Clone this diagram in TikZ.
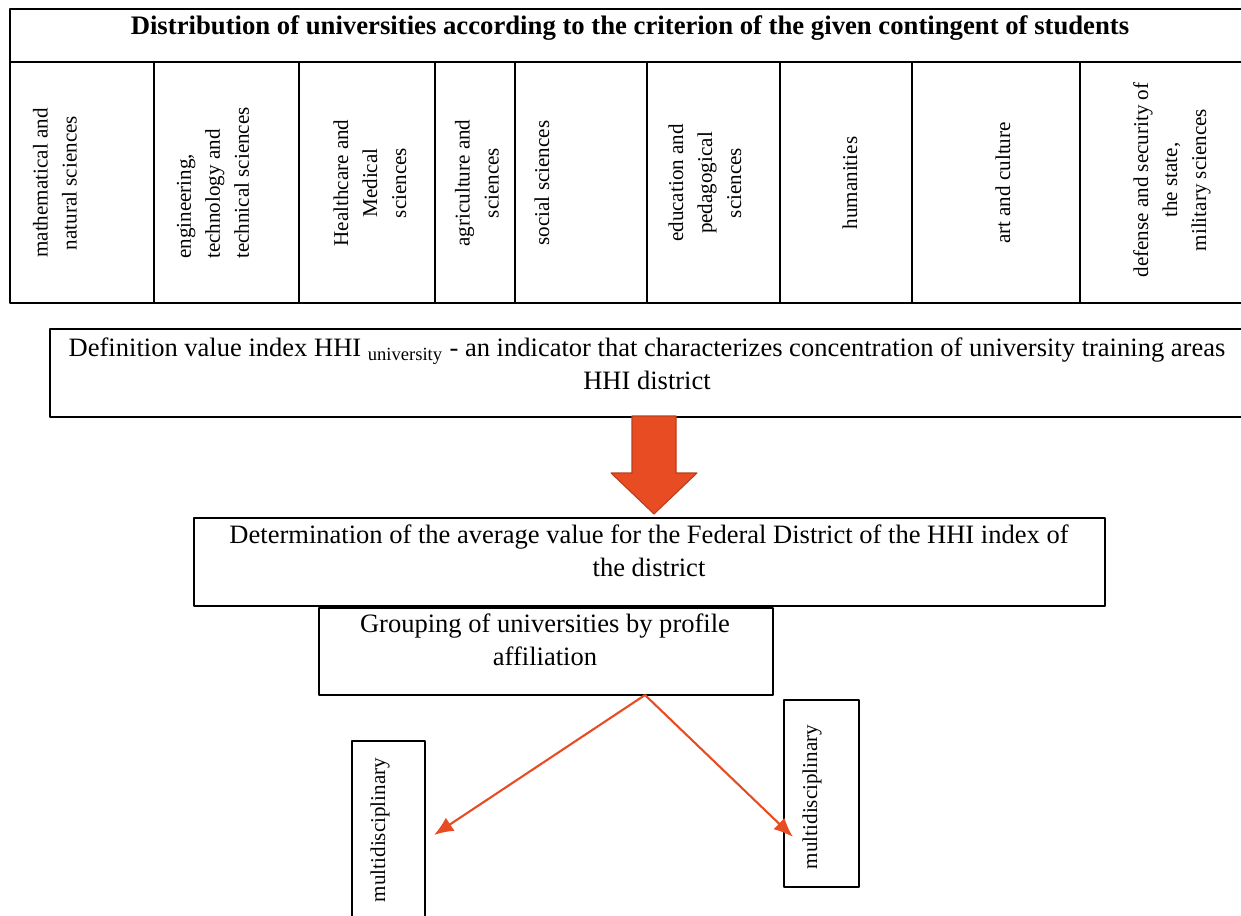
\documentclass[tikz,border=0pt]{standalone}
\usepackage{fontspec}
\setmainfont{Liberation Serif}
\usetikzlibrary{arrows.meta}
\definecolor{arrowred}{HTML}{E84C22}
\begin{document}
\begin{tikzpicture}[x=0.02cm,y=-0.02cm,line join=round,
  rule/.style={line width=1.1pt},
  frame/.style={draw,line width=1.1pt,inner sep=0pt,anchor=north west},
  vlabel/.style={rotate=90,align=center,inner sep=0pt,font=\fontsize{12}{16.5}\selectfont},
  btext/.style={align=center,inner sep=0pt,font=\fontsize{15.1}{18.7}\selectfont},
  redline/.style={draw=arrowred,line width=1.2pt,-{Latex[length=11pt,width=9pt]}}]
\useasboundingbox (0,0) rectangle (1241,916);
% table of training areas
\draw[rule] (1241,9) -- (10,9) -- (10,303) -- (1241,303);
\draw[rule] (10,62) -- (1241,62);
\foreach \x in {154,299,435,515,647,780,912,1080}
  \draw[rule] (\x,62) -- (\x,303);
\node[btext,font=\bfseries\fontsize{15.2}{18}\selectfont] (title) at (630,28)
  {Distribution of universities according to the criterion of the given contingent of students};
\node[vlabel] (math) at (55,183) {mathematical and\\natural sciences};
\node[vlabel,align=left] (eng) at (213,183) {engineering,\\technology and\\technical sciences};
\node[vlabel] (health) at (370,183) {Healthcare and\\Medical\\sciences};
\node[vlabel] (agri) at (477,183) {agriculture and\\sciences};
\node[vlabel] (soc) at (542,183) {social sciences};
\node[vlabel] (edu) at (705,183) {education and\\pedagogical\\sciences};
\node[vlabel] (hum) at (850,183) {humanities};
\node[vlabel] (art) at (1003,183) {art and culture};
\node[vlabel] (def) at (1172,180) {defense and security of\\the state,\\military sciences};
% steps
\node[frame,minimum width=1192*0.02cm,minimum height=88*0.02cm] (hhibox) at (49,328) {};
\node[btext] (hhitext) at (647,364)
  {Definition value index HHI \textsubscript{university} - an indicator that characterizes concentration of university training areas\\HHI district};
\node[frame,minimum width=911*0.02cm,minimum height=88*0.02cm] (avgbox) at (193,517) {};
\node[btext] (avgtext) at (649,551)
  {Determination of the average value for the Federal District of the HHI index of\\the district};
\node[frame,minimum width=454*0.02cm,minimum height=87*0.02cm] (grpbox) at (318,607) {};
\node[btext] (grptext) at (545,640) {Grouping of universities by profile\\affiliation};
\node[frame,minimum width=73*0.02cm,minimum height=190*0.02cm] (leftbox) at (351,740) {};
\node[vlabel] (lefttext) at (380,830) {multidisciplinary};
\node[frame,minimum width=75*0.02cm,minimum height=187*0.02cm] (rightbox) at (783,699) {};
\node[vlabel] (righttext) at (812,797) {multidisciplinary};
% block arrow
\filldraw[fill=arrowred,draw=arrowred!80!black,line width=0.6pt]
  (632,416) -- (676,416) -- (676,473) -- (697,473) -- (654,514)
  -- (611,473) -- (632,473) -- cycle;
% split
\coordinate (fork) at (645,695);
\coordinate (lefttip) at (434,835);
\coordinate (righttip) at (793,837);
\draw[redline] (fork) -- (lefttip);
\draw[redline] (fork) -- (righttip);
\end{tikzpicture}
\end{document}
